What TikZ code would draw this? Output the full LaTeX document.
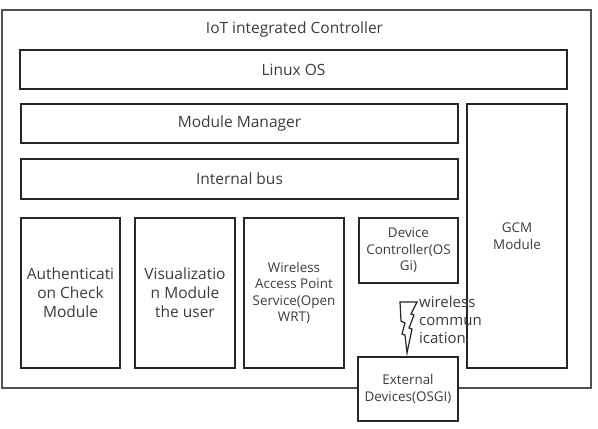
\documentclass[tikz,border=0pt]{standalone}
\usepackage{fontspec}
\setmainfont{Open Sans}
\usetikzlibrary{positioning}
\definecolor{linegray}{HTML}{262626}
\definecolor{textgray}{HTML}{3C3C3C}
\tikzset{
  blk/.style={draw=linegray, line width=1.5pt, fill=white, inner sep=0pt,
    align=center, text=textgray, font=\fontsize{15.5}{19}\selectfont},
  smalltxt/.style={font=\fontsize{13.4}{16.5}\selectfont}
}

\begin{document}
\begin{tikzpicture}[x=1pt, y=-1pt]
    \useasboundingbox (0,0) rectangle (598,429);

    % Outer controller frame
    \node[blk, line width=1.1pt, draw=linegray!80, minimum width=589pt, minimum height=378pt] (ctrl) at (296.5,199) {};
    \node[text=textgray, font=\fontsize{15.5}{18}\selectfont] (title) at (294.5,29) {IoT integrated Controller};

    % Horizontal layers
    \node[blk, minimum width=547pt, minimum height=39pt] (linux) at (293.5,69.5) {Linux OS};
    \node[blk, minimum width=437pt, minimum height=39pt] (mgr) at (239.5,123.5) {Module Manager};
    \node[blk, minimum width=437pt, minimum height=40pt] (bus) at (239.5,179) {Internal bus};

    % GCM column
    \node[blk, smalltxt, minimum width=100pt, minimum height=264pt] (gcm) at (517,236) {GCM\\Module};

    % Modules on the bus
    \node[blk, minimum width=99pt, minimum height=150pt] (auth) at (70.5,293) {Authenticati\\on Check\\Module};
    \node[blk, minimum width=100pt, minimum height=150pt] (vis) at (185,293) {Visualizatio\\n Module\\the user};
    \node[blk, smalltxt, minimum width=100pt, minimum height=150pt] (wap) at (294,293) {Wireless\\Access Point\\Service(Open\\WRT)};
    \node[blk, smalltxt, minimum width=99pt, minimum height=65pt] (devctl) at (408.5,250.5) {Device\\Controller(OS\\Gi)};

    % External devices (sits on the frame)
    \node[blk, smalltxt, minimum width=100pt, minimum height=64pt] (extdev) at (408,389) {External\\Devices(OSGI)};

    % Wireless link between device controller and external devices
    \coordinate (bolt) at (400,302);
    \draw[linegray, line width=1.2pt, line join=miter, fill=white]
        (bolt) -- ++(17,0) -- ++(-6,12) -- ++(3,1) -- ++(-5,13) -- ++(3,1)
        -- ++(-5,24) -- ++(-2,-18) -- ++(-3,-1) -- ++(3,-11) -- ++(-4,-2) -- cycle;
    \node[anchor=north west, align=left, inner sep=0pt, text=textgray,
        font=\fontsize{15}{18}\selectfont] (wlabel) at (419,296) {wireless\\commun\\ication};
\end{tikzpicture}
\end{document}
